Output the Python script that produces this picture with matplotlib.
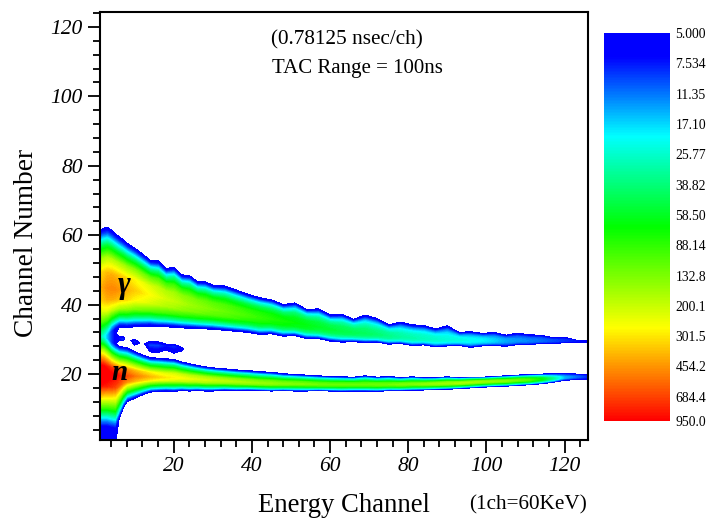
import numpy as np
import matplotlib
matplotlib.use('Agg')
import matplotlib.pyplot as plt
from matplotlib.cm import ScalarMappable
from matplotlib.colors import LinearSegmentedColormap, LogNorm

plt.rcParams['font.family'] = ['Liberation Serif', 'DejaVu Serif']

# values, one entry per energy channel in the list
energy = [1,2,3,4,5,6,7,8,10,12,14,16,18,20,22,24,26,28,30,33,36,39,42,45,48,51,54,57,60,63,66,69,72,75,78,81,84,87,90,93,96,99,102,105,108,111,114,117,120,123,126]

# gamma band: upper edge, ridge, lower edge (channel number) and counts on the ridge
g_top = [61.4,62,62.3,61.5,60.5,59.6,58.8,57.8,56.3,54.6,52.8,52.6,50.4,50.8,48.6,48.4,46.7,46.6,45.6,45.4,44.2,43,42,41.4,40,40.5,38.6,38.8,37,37.2,35.8,37,36,34.2,35,34.2,34,33,33.9,32,32.2,31.7,32,31.2,31.8,31.3,31.2,30.5,30.6,29.8,29.6]
g_ridge = [45,45,44.8,44.6,44.4,44.3,44.2,44.1,44,43.3,42.8,42.2,41.6,41,40.4,39.9,39.4,39,38.6,38,37.4,36.9,36.3,35.8,35.2,34.7,34.1,33.5,32.9,32.4,32,31.7,31.4,31,30.7,30.4,30.2,30,29.9,29.8,29.7,29.7,29.6,29.6,29.6,29.6,29.6,29.6,29.6,29.6,29.4]
g_low = [31,31.2,31.5,32.5,33,33.5,33.5,33.4,33.6,33.7,33.8,33.6,33.6,33.5,33.3,33.2,33.1,33,32.9,32.6,32.3,32,31.4,31.6,30.9,31.1,30.2,30.2,29.5,29.2,29.3,29.1,29.2,28.6,28.8,28.2,28.4,27.8,28.1,28.2,27.7,28.1,28.2,28,28.5,28.5,28.8,28.8,29,29.1,29.2]
g_peak = [360,420,470,490,480,450,420,390,340,300,265,235,210,195,175,160,150,140,130,120,108,98,90,82,75,70,64,58,54,50,47,44,40,36,32,30,28,26,24,23,21,20,17,14,13,12,11,9.5,8.5,7.5,6.2]

# neutron band
n_top = [30.5,30.5,30,29,28.5,28,27.8,27.6,26.5,25.5,24.7,24.6,24.4,24.2,23.5,23,22.5,22.1,21.8,21.5,21.2,21,20.7,20.5,20.1,19.9,19.7,19.5,19.3,19.2,19.1,19.5,19.1,19.3,19,19.2,19,19,19.2,19,19.1,19.1,19.3,19.5,19.7,19.9,20,20.1,20.2,20,20]
n_ridge = [20,20,19.8,19.7,19.6,19.5,19.5,19.4,19.4,19.3,19.2,19.1,19,19,18.8,18.6,18.5,18.3,18.2,18,17.8,17.6,17.4,17.3,17.2,17.2,17.1,17,17,17,17,17,17,17,17,17.1,17.1,17.2,17.3,17.4,17.6,17.8,17.9,18,18.2,18.3,18.5,18.7,19,19.2,19.2]
n_low = [5,5,5,4.5,4,7,10,12,13,14,14.8,15,15.1,15,15.2,15.1,15.2,15.1,15.1,15.3,15.2,15.3,15.2,15.1,15.2,15.1,15.1,15.2,15.1,15,15.1,15.1,15,15.2,15.2,15.3,15.4,15.5,15.6,15.8,16,16.2,16.4,16.5,16.7,16.9,17.2,17.6,18.2,18.4,18.5]
n_peak = [1300,1250,1150,1050,950,850,750,650,520,440,380,330,300,280,260,240,225,215,200,185,175,165,155,150,140,135,130,125,120,120,120,120,125,125,135,135,145,155,160,165,165,155,150,140,125,105,70,35,15,11,8]

# counts between the bands: islands at the left, and along the bottom of the plot
gap_val = [32,24,15,9,6,7,8,3,8,4,9,9,7,8,6,3,1,1,1,1,1,1,1,1,1,1,1,1,1,1,1,1,1,1,1,1,1,1,1,1,1,1,1,1,1,1,1,1,1,1,1]
side_val = [32,24,15,9,6,5,5,5,5,5,5,5,5,5,5,5,5,5,5,5,5,5,5,5,5,5,5,5,5,5,5,5,5,5,5,5,5,5,5,5,5,5,5,5,5,5,5,5,5,5,5]
clear_low = [32,24,15,9,6,3,1,1,3,1,4,4,3,4,3,1,1,1,1,1,1,1,1,1,1,1,1,1,1,1,1,1,1,1,1,1,1,1,1,1,1,1,1,1,1,1,1,1,1,1,1]
clear_high = [32,24,15,9,6,3,3,1,2,1,2,2,1,1,1,1,1,1,1,1,1,1,1,1,1,1,1,1,1,1,1,1,1,1,1,1,1,1,1,1,1,1,1,1,1,1,1,1,1,1,1]
foot_val = [6.5,6.5,6.5,6,5.2,1,1,1,1,1,1,1,1,1,1,1,1,1,1,1,1,1,1,1,1,1,1,1,1,1,1,1,1,1,1,1,1,1,1,1,1,1,1,1,1,1,1,1,1,1,1]
low_val = [6.5,6.5,6.5,6,5.5,5,5,5,5,5,5,5,5,5,5,5,5,5,5,5,5,5,5,5,5,5,5,5,5,5,5,5,5,5,5,5,5,5,5,5,5,5,5,5,5,5,5,5,5,5,5]

# shape of a band from its edge to its ridge
n_shape_pos = [0,0.12,0.22,0.35,0.55,0.78]
n_shape_val = [0,0.14,0.3,0.5,0.72,0.93]
g_shape_pos = [0,0.1,0.18,0.3,0.5,0.75]
g_shape_val = [0,0.14,0.3,0.52,0.78,0.95]

bar_labels = ['5.000','7.534','11.35','17.10','25.77','38.82','58.50','88.14','132.8','200.1','301.5','454.2','684.4','950.0']
bar_values = [5,7.534,11.35,17.10,25.77,38.82,58.50,88.14,132.8,200.1,301.5,454.2,684.4,950]

cmap = LinearSegmentedColormap.from_list('tac', [
    (0, '#0000ff'), (0.06, '#0000ff'), (0.265, '#00ffff'), (0.5, '#00ff00'),
    (0.76, '#ffff00'), (1, '#ff0000')])


def band_rows(edge, ridge, edge_val, peak, pos, val):
    ys, zs = [], []
    for p, v in zip(pos, val):
        ys.append(edge + p * (ridge - edge))
        zs.append(np.log10(edge_val) + v * (np.log10(peak) - np.log10(edge_val)))
    return ys, zs


n = len(energy)
x = np.array(energy, dtype=float)
g_top, g_ridge, g_low, g_peak = map(np.array, (g_top, g_ridge, g_low, g_peak))
n_top, n_ridge, n_low, n_peak = map(np.array, (n_top, n_ridge, n_low, n_peak))
gap_val, side_val = np.array(gap_val), np.array(side_val)
clear_low, clear_high = np.array(clear_low), np.array(clear_high)
foot_val, low_val = np.array(foot_val), np.array(low_val)
top_val = np.full(n, 5.0)

a_y, a_z = band_rows(n_low, n_ridge, low_val, n_peak, n_shape_pos, n_shape_val)
b_y, b_z = band_rows(n_top, n_ridge, side_val, n_peak, n_shape_pos, n_shape_val)
c_y, c_z = band_rows(g_low, g_ridge, side_val, g_peak, g_shape_pos, g_shape_val)
d_y, d_z = band_rows(g_top, g_ridge, top_val, g_peak, g_shape_pos, g_shape_val)

gap = g_low - n_top
gap_rows_y = [n_top + 0.1 * gap, n_top + 0.4 * gap, n_top + 0.72 * gap]
gap_rows_z = [np.log10(clear_low), np.log10(gap_val), np.log10(clear_high)]

rows_y = [np.full(n, -1.0)] + a_y + [n_ridge] + b_y[::-1] + gap_rows_y + c_y + [g_ridge] + d_y[::-1] + [np.full(n, 126.0)]
rows_z = [np.log10(foot_val)] + a_z + [np.log10(n_peak)] + b_z[::-1] + gap_rows_z + c_z + [np.log10(g_peak)] + d_z[::-1] + [np.zeros(n)]
Y = np.array(rows_y)
Z = np.array(rows_z)
X = np.tile(x, (Y.shape[0], 1))

fig = plt.figure(figsize=(7.08, 5.21), dpi=100)
ax = fig.add_axes([99.5 / 708, 1 - 440 / 521, (588 - 99.5) / 708, (440 - 12) / 521])
levels = np.linspace(np.log10(5), np.log10(950), 120)
ax.contourf(X, Y, Z, levels=levels, cmap=cmap, extend='max')

ax.set_xlim(1, 126)
ax.set_ylim(1, 124.3)
ax.set_xticks(range(20, 121, 20))
ax.set_yticks(range(20, 121, 20))
ax.set_xticks(range(4, 125, 4), minor=True)
ax.set_yticks(range(4, 125, 4), minor=True)
ax.tick_params(which='major', length=9, width=1.3, labelsize=15.5, pad=3)
ax.tick_params(which='minor', length=5, width=1.3)
for lab in ax.get_xticklabels() + ax.get_yticklabels():
    lab.set_fontstyle('italic')
for s in ax.spines.values():
    s.set_linewidth(1.5)

fig.text(27 / 708, 1 - 243 / 521, 'Channel Number', rotation=90, fontsize=19.7, ha='center', va='center')
fig.text(344 / 708, 1 - 505.5 / 521, 'Energy Channel', fontsize=19.2, ha='center', va='center')
fig.text(528 / 708, 1 - 505 / 521, '(1ch=60KeV)', fontsize=15.3, ha='center', va='center')
fig.text(346.5 / 708, 1 - 40 / 521, '(0.78125 nsec/ch)', fontsize=15.3, ha='center', va='center')
fig.text(357 / 708, 1 - 69 / 521, 'TAC Range = 100ns', fontsize=15, ha='center', va='center')
fig.text(124 / 708, 1 - 286 / 521, 'γ', fontsize=22, fontweight='bold', fontstyle='italic', ha='center', va='center')
fig.text(120 / 708, 1 - 373 / 521, 'n', fontsize=21, fontweight='bold', fontstyle='italic', ha='center', va='center')

cax = fig.add_axes([604 / 708, 1 - 421 / 521, 66 / 708, 388 / 521])
cb = fig.colorbar(ScalarMappable(norm=LogNorm(5, 950), cmap=cmap), cax=cax)
cb.outline.set_visible(False)
cax.invert_yaxis()
cax.minorticks_off()
cb.set_ticks(bar_values)
cb.set_ticklabels(bar_labels)
cax.tick_params(length=0, labelsize=9.8, pad=4)

fig.savefig('out.png', dpi=100)
